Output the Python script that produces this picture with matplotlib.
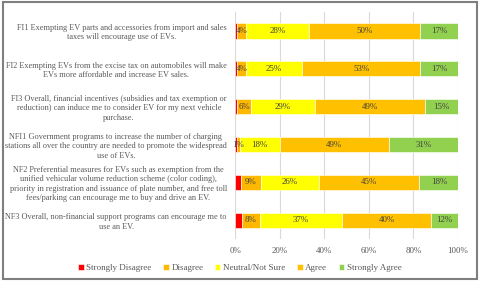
import matplotlib.pyplot as plt
import numpy as np

plt.rcParams['font.family'] = ['Liberation Serif', 'DejaVu Serif']

statements = [
    'FI1 Exempting EV parts and accessories from import and sales\ntaxes will encourage use of EVs.',
    'FI2 Exempting EVs from the excise tax on automobiles will make\nEVs more affordable and increase EV sales.',
    'FI3 Overall, financial incentives (subsidies and tax exemption or\nreduction) can induce me to consider EV for my next vehicle\npurchase.',
    'NFI1 Government programs to increase the number of charging\nstations all over the country are needed to promote the widespread\nuse of EVs.',
    'NF2 Preferential measures for EVs such as exemption from the\nunified vehicular volume reduction scheme (color coding),\npriority in registration and issuance of plate number, and free toll\nfees/parking can encourage me to buy and drive an EV.',
    'NF3 Overall, non-financial support programs can encourage me to\nuse an EV.',
]

responses = ['Strongly Disagree', 'Disagree', 'Neutral/Not Sure', 'Agree', 'Strongly Agree']
strongly_disagree = [1, 1, 1, 1, 2.5, 3]
disagree = [4, 4, 6, 1, 9, 8]
neutral = [28, 25, 29, 18, 26, 37]
agree = [50, 53, 49, 49, 45, 40]
strongly_agree = [17, 17, 15, 31, 18, 12]

colors = ['#FF0000', '#FFB800', '#FFFF00', '#FFC000', '#92D050']
text_gray = '#595959'

series = [strongly_disagree, disagree, neutral, agree, strongly_agree]

fig = plt.figure(figsize=(4.8, 2.81), dpi=100)
ax = fig.add_axes([0.49, 0.149, 0.464, 0.808])

y = np.arange(len(statements))
left = np.zeros(len(statements))
for k, (name, vals) in enumerate(zip(responses, series)):
    vals = np.array(vals, dtype=float)
    ax.barh(y, vals / 100, left=left / 100, height=0.4, color=colors[k],
            edgecolor='white', linewidth=0.4, label=name, zorder=3)
    if k > 0:
        for yi, l, v in zip(y, left, vals):
            ax.text((l + v / 2) / 100, yi, f'{v:.0f}%', ha='center', va='center',
                    fontsize=6.4, color='#404040', zorder=4)
    left += vals

ax.set_xlim(0, 1)
ax.set_ylim(len(statements) - 0.5, -0.5)
ax.set_xticks(np.linspace(0, 1, 6))
ax.set_xticklabels([f'{p}%' for p in range(0, 101, 20)], fontsize=6.4, color=text_gray)
ax.set_yticks(y)
ax.set_yticklabels(statements, fontsize=5.95, color=text_gray, multialignment='center',
                   linespacing=1.22)
ax.tick_params(length=0, pad=6)
ax.grid(axis='x', color='#D9D9D9', linewidth=0.8, zorder=0)
for s in ax.spines.values():
    s.set_visible(False)

fig.legend(loc='center', bbox_to_anchor=(0.5, 0.047), ncol=5, frameon=False,
           fontsize=6.5, handlelength=0.6, handleheight=0.6, handletextpad=0.3,
           columnspacing=1.3, labelcolor=text_gray)

fig.patches.append(plt.Rectangle((0.006, 0.008), 0.988, 0.984, transform=fig.transFigure,
                                 fill=False, edgecolor='#7F7F7F', linewidth=1.5))

fig.savefig('out.png', dpi=100)
